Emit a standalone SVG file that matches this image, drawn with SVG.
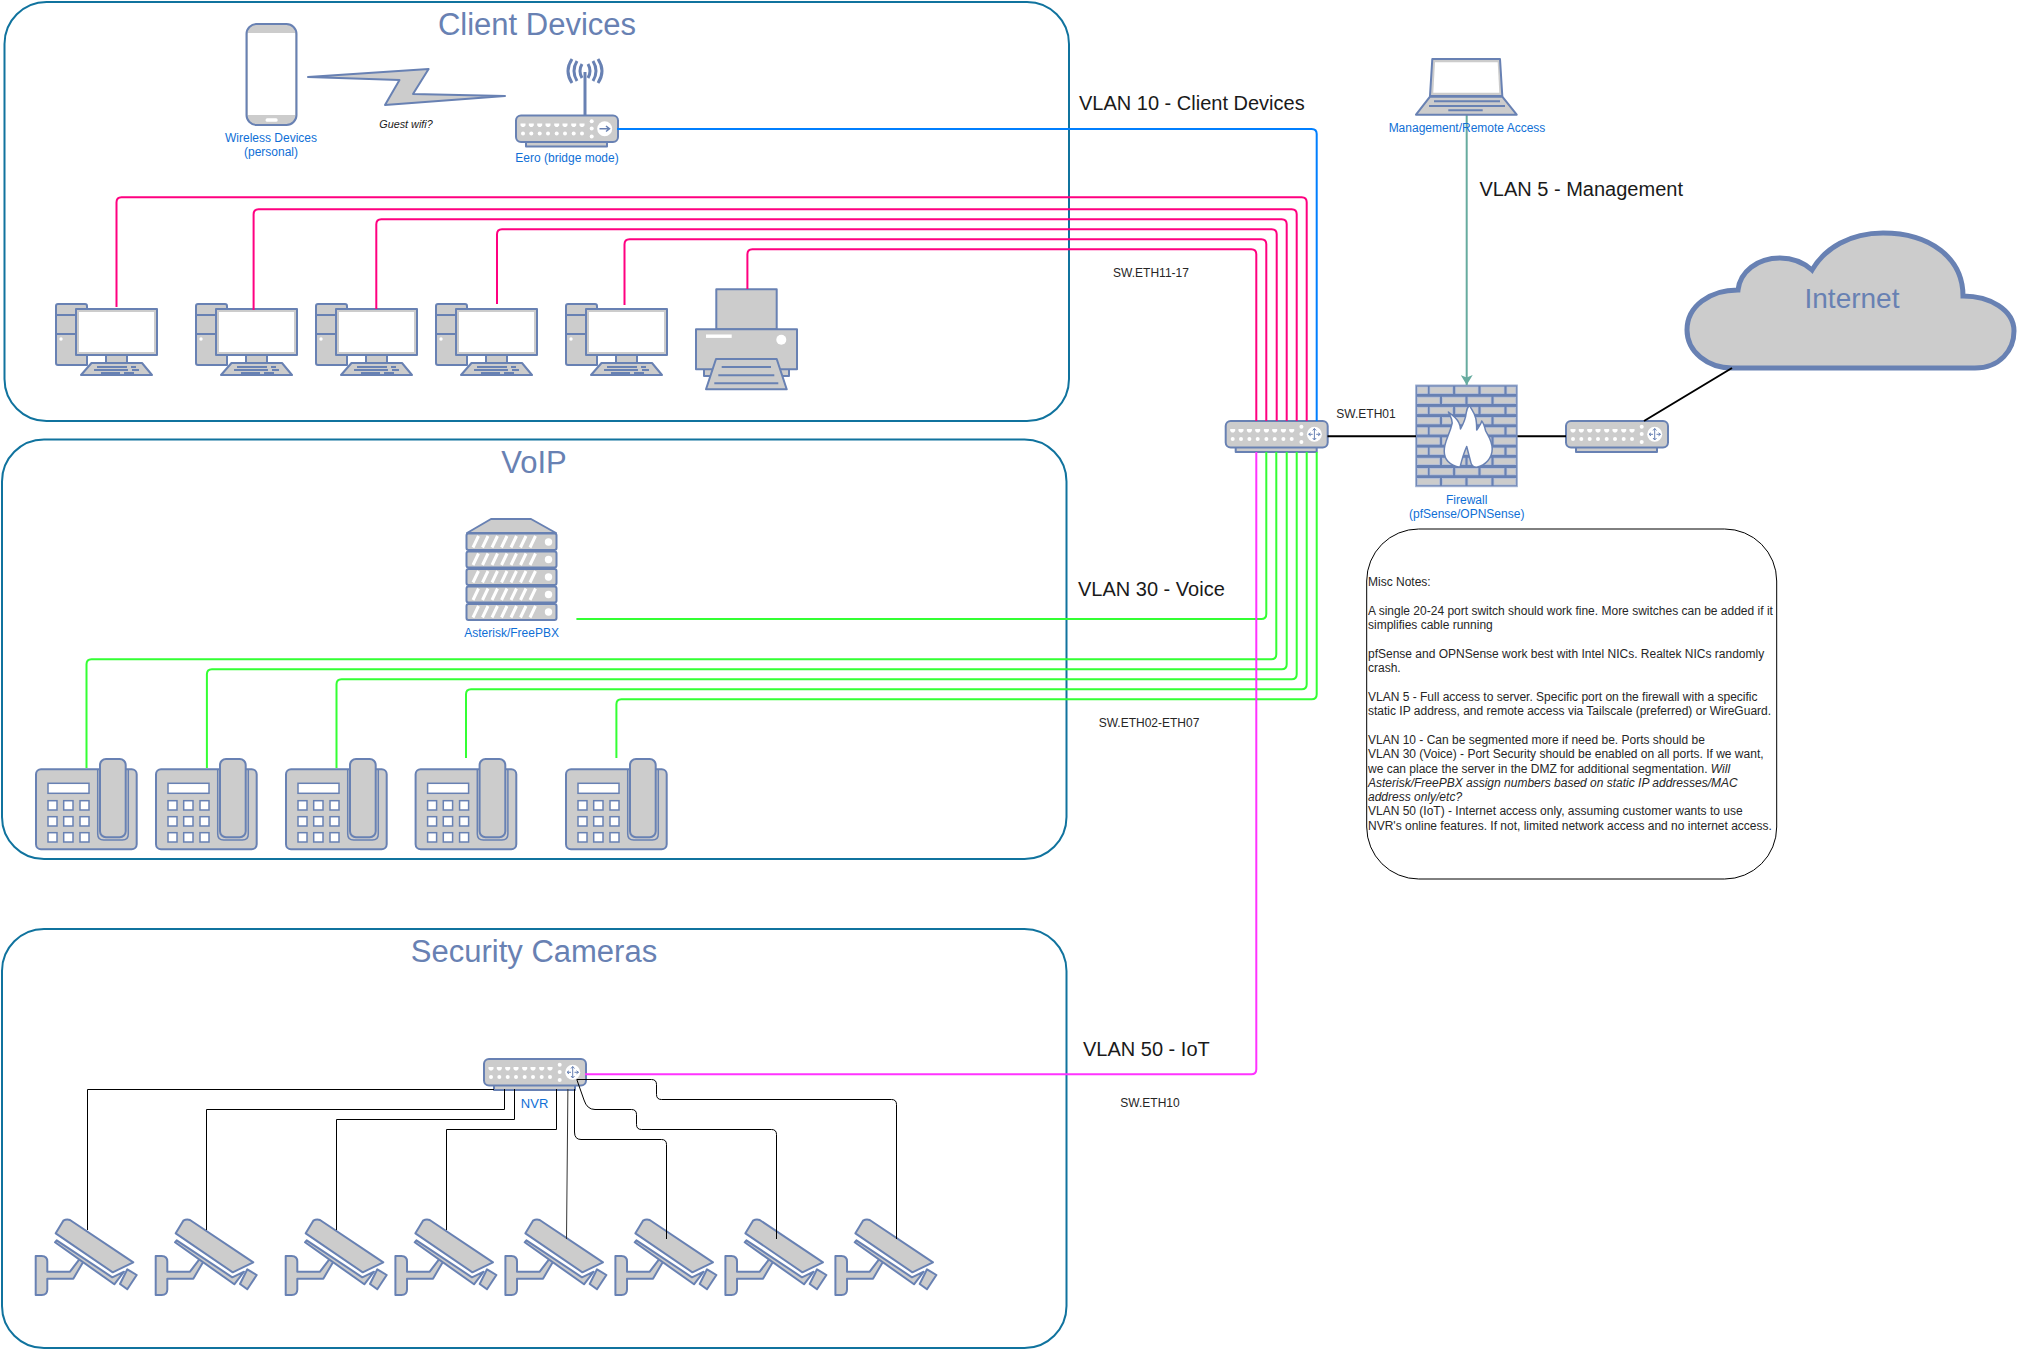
<svg xmlns="http://www.w3.org/2000/svg" width="2017" height="1350" viewBox="0 0 2017 1350">
<style>
text{font-family:"Liberation Sans",Arial,sans-serif}
.box{fill:#fff;stroke:#10739e;stroke-width:2}
.title{font-size:31px;fill:#6881b3;text-anchor:middle}
.lab{font-size:12px;fill:#0f6fd6;text-anchor:middle}
.vlan{font-size:20px;fill:#1a1a1a}
.sm{font-size:12px;fill:#262626;text-anchor:middle}
.note{font-size:12px;fill:#262626}
.s{fill:#ccc;stroke:#6881b3;stroke-width:2;stroke-linejoin:round}
.w{fill:#fff}
.sw{fill:#fff;stroke:#6881b3;stroke-width:1.5}
.l{fill:none;stroke:#6881b3;stroke-width:2}
.c{fill:none;stroke-width:2}
.pk{stroke:#ff0080}
.gr{stroke:#33ff33}
.k{stroke:#000}
.k1{fill:none;stroke:#000;stroke-width:1}
</style>
<defs>
<marker id="arr" markerUnits="userSpaceOnUse" markerWidth="12" markerHeight="12" refX="10" refY="6" orient="auto"><path d="M10 6L0 0L2.5 6L0 12Z" fill="#67ab9f"/></marker>
<g id="swbase">
<rect class="s" x="10" y="26" width="81" height="5"/>
<rect class="s" x="0" y="0" width="102" height="26.5" rx="5"/>
<g fill="#fff">
<path d="M4.5 8h5v2l-1.5 1.5h-2l-1.5-1.5zM12.8 8h5v2l-1.5 1.5h-2l-1.5-1.5zM21.2 8h5v2l-1.5 1.5h-2l-1.5-1.5zM29.5 8h5v2l-1.5 1.5h-2l-1.5-1.5zM38.2 8h5v2l-1.5 1.5h-2l-1.5-1.5zM46.5 8h5v2l-1.5 1.5h-2l-1.5-1.5zM55.2 8h5v2l-1.5 1.5h-2l-1.5-1.5zM63.5 8h5v2l-1.5 1.5h-2l-1.5-1.5z"/>
<circle cx="7" cy="18" r="2"/><circle cx="15.3" cy="18" r="2"/><circle cx="23.7" cy="18" r="2"/><circle cx="32" cy="18" r="2"/><circle cx="40.7" cy="18" r="2"/><circle cx="49" cy="18" r="2"/><circle cx="57.7" cy="18" r="2"/><circle cx="66" cy="18" r="2"/>
<circle cx="75.7" cy="5.7" r="2"/><circle cx="75.7" cy="13" r="2"/><circle cx="75.7" cy="21" r="2"/>
<circle cx="88.7" cy="13.3" r="7.5"/>
</g>
</g>
<g id="switch">
<use href="#swbase"/>
<path d="M88.7 7.5V19M83 13.3H87M90.5 13.3H94.5M87 9.5L88.7 7.5L90.5 9.5M87 17L88.7 19L90.5 17M85 11.8L83 13.3L85 14.8M92.5 11.8L94.5 13.3L92.5 14.8" fill="none" stroke="#6881b3" stroke-width="1"/>
</g>
<g id="computer">
<path class="s" d="M0 2Q0 0 2 0H29Q31 0 31 2V61H2Q0 61 0 59Z"/>
<path class="l" d="M0 11H20M0 30H20"/>
<circle class="w" cx="5" cy="35" r="1.7"/>
<rect class="s" x="50" y="51" width="21" height="8"/>
<rect class="s" x="20" y="5" width="81" height="46"/>
<rect class="w" x="23" y="8" width="75" height="40"/>
<path class="s" d="M35.5 59H86L96 71H25Z"/>
<path class="l" d="M41 63H71M75 63H80M38 66H72M76 66H83M45 69H64M68 69H78" stroke-width="1.5"/>
</g>
<g id="phone">
<rect class="s" x="0" y="11.3" width="100.7" height="80" rx="5"/>
<path d="M61.7 11.3V76Q61.7 82 67.7 82H86.3Q92.3 82 92.3 76V11.3" fill="none" stroke="#6881b3" stroke-width="1.5"/>
<rect class="s" x="64" y="1" width="25.7" height="78.3" rx="6"/>
<rect class="sw" x="12" y="25.3" width="41" height="10"/>
<g class="sw">
<rect x="12" y="42.7" width="9" height="9.3"/><rect x="27.7" y="42.7" width="9.3" height="9.3"/><rect x="44" y="42.7" width="9" height="9.3"/>
<rect x="12" y="58.7" width="9" height="9.3"/><rect x="27.7" y="58.7" width="9.3" height="9.3"/><rect x="44" y="58.7" width="9" height="9.3"/>
<rect x="12" y="74.7" width="9" height="9.3"/><rect x="27.7" y="74.7" width="9.3" height="9.3"/><rect x="44" y="74.7" width="9" height="9.3"/>
</g>
</g>
<g id="camera">
<path class="s" d="M0 0H6Q11.6 0 11.6 5.5V15.7H34.3L43.6 3.3L47.6 5.7L37.6 22.7H11.6V33.5Q11.6 39 6 39H0Z"/>
<path class="s" d="M19.3 -13.7L21 -15.7L76.6 21.3L88.3 15.7L78.6 28.3Z"/>
<path class="s" d="M20 -22.7L27.6 -35.3Q31 -37.5 34.3 -36L97.6 6.3L77 16.3Z"/>
<path class="s" d="M91.6 13.3L101 19L91.6 33.3L84.3 28Z"/>
</g>
<path id="stripes" d="M0 11.5L5.5 0M9.5 11.5L15 0M19 11.5L24.5 0M28.5 11.5L34 0M38 11.5L43.5 0M47.5 11.5L53 0M57 11.5L62.5 0" fill="none" stroke="#fff" stroke-width="3"/>
<g id="rowA" fill="#ccc" stroke="#b9c4db" stroke-width=".8"><rect x="1.7" width="10" height="6.4"/><rect x="14.3" width="22.7" height="6.4"/><rect x="40" width="22.3" height="6.4"/><rect x="65.3" width="23" height="6.4"/><rect x="91.3" width="8.7" height="6.4"/></g>
<g id="rowB" fill="#ccc" stroke="#b9c4db" stroke-width=".8"><rect x="1.7" width="22" height="6.4"/><rect x="26.7" width="22.6" height="6.4"/><rect x="52.3" width="23" height="6.4"/><rect x="78.3" width="21.7" height="6.4"/></g>
</defs>

<rect width="2017" height="1350" fill="#fff"/>

<g id="zones">
<g id="zone-client"><rect class="box" x="4.5" y="2" width="1064.5" height="419" rx="42"/><text class="title" x="537" y="35">Client Devices</text></g>
<g id="zone-voip"><rect class="box" x="2" y="439.5" width="1064.5" height="419.5" rx="42"/><text class="title" x="534" y="473">VoIP</text></g>
<g id="zone-cameras"><rect class="box" x="2" y="929" width="1064.5" height="419" rx="42"/><text class="title" x="534" y="962">Security Cameras</text></g>
</g>

<g id="wireless-devices">
<rect class="s" x="246.5" y="24" width="50" height="101" rx="10"/>
<rect class="w" x="248" y="33" width="47" height="82"/>
<rect class="w" x="265.6" y="118.3" width="12" height="3.4" rx="1.5"/>
<text class="lab" x="271" y="142">Wireless Devices</text>
<text class="lab" x="271" y="156">(personal)</text>
</g>
<g id="wifi-link">
<path class="s" d="M308 77L428.6 69L413 94L505 96L385 105L399.5 80Z"/>
<text x="406" y="128" font-size="10.8" font-style="italic" fill="#1a1a1a" text-anchor="middle">Guest wifi?</text>
</g>
<g id="eero">
<path d="M585 72V115" stroke="#6881b3" stroke-width="3" fill="none"/>
<path d="M572 59Q564 71 572 83M598 59Q606 71 598 83M577 61Q571 71 577 81M593 61Q599 71 593 81M582 64Q578 71 582 78M588 64Q592 71 588 78" stroke="#6881b3" stroke-width="3" fill="none"/>
<g transform="translate(516 115.5)"><use href="#swbase"/><path d="M83.5 13.3H93M90 10.5L93.5 13.3L90 16" fill="none" stroke="#6881b3" stroke-width="1.5"/></g>
<text class="lab" x="567" y="162">Eero (bridge mode)</text>
</g>

<g id="pc1"><use href="#computer" x="56" y="304"/></g>
<g id="pc2"><use href="#computer" x="196" y="304"/></g>
<g id="pc3"><use href="#computer" x="316" y="304"/></g>
<g id="pc4"><use href="#computer" x="436" y="304"/></g>
<g id="pc5"><use href="#computer" x="566" y="304"/></g>
<g id="printer">
<rect class="s" x="716.3" y="289.3" width="60.4" height="40"/>
<rect class="s" x="704" y="369" width="85" height="7"/>
<rect class="s" x="696" y="329.3" width="101" height="40"/>
<rect class="w" x="706" y="334.5" width="25.7" height="3.4"/>
<circle class="w" cx="781.3" cy="339.7" r="5"/>
<path class="s" d="M716 359H776.7L786.7 389.3H706Z"/>
<path class="l" d="M721.7 367H771M718.3 375.3H774.3M714.3 383.3H778.3" stroke-width="1.5"/>
</g>

<g id="server">
<path class="s" d="M467 533L491 519H531L556 533Z"/>
<rect class="s" x="466.5" y="533.5" width="90" height="16.5" rx="2"/>
<rect class="s" x="466.5" y="551.5" width="90" height="16" rx="2"/>
<rect class="s" x="466.5" y="569" width="90" height="16" rx="2"/>
<rect class="s" x="466.5" y="586.5" width="90" height="16" rx="2"/>
<rect class="s" x="466.5" y="604" width="90" height="16" rx="2"/>
<use href="#stripes" x="473" y="536"/><use href="#stripes" x="473" y="553.5"/><use href="#stripes" x="473" y="571"/><use href="#stripes" x="473" y="588.5"/><use href="#stripes" x="473" y="606"/>
<g fill="#fff"><circle cx="548.5" cy="542" r="3.7"/><circle cx="548.5" cy="559.5" r="3.7"/><circle cx="548.5" cy="577" r="3.7"/><circle cx="548.5" cy="594.5" r="3.7"/><circle cx="548.5" cy="612" r="3.7"/></g>
<text class="lab" x="511.6" y="636.5">Asterisk/FreePBX</text>
</g>

<g id="phone1"><use href="#phone" x="36" y="758"/></g>
<g id="phone2"><use href="#phone" x="156" y="758"/></g>
<g id="phone3"><use href="#phone" x="286" y="758"/></g>
<g id="phone4"><use href="#phone" x="415.6" y="758"/></g>
<g id="phone5"><use href="#phone" x="566" y="758"/></g>

<g id="nvr"><use href="#switch" x="484" y="1059"/><text class="lab" x="534.6" y="1107.5" style="font-size:13px">NVR</text></g>

<g id="cam1"><use href="#camera" x="35.7" y="1256"/></g>
<g id="cam2"><use href="#camera" x="155.7" y="1256"/></g>
<g id="cam3"><use href="#camera" x="285.7" y="1256"/></g>
<g id="cam4"><use href="#camera" x="395.4" y="1256"/></g>
<g id="cam5"><use href="#camera" x="505.4" y="1256"/></g>
<g id="cam6"><use href="#camera" x="615.4" y="1256"/></g>
<g id="cam7"><use href="#camera" x="725.4" y="1256"/></g>
<g id="cam8"><use href="#camera" x="835.4" y="1256"/></g>

<g id="main-switch"><use href="#switch" x="1225.7" y="421"/></g>
<g id="edge-switch"><use href="#switch" x="1566" y="421"/></g>

<g id="firewall">
<rect x="1415.7" y="385" width="101.6" height="101.7" fill="#6881b3" stroke="#9fb0d0"/>
<g transform="translate(1415.7 385)">
<use href="#rowA" y="2"/><use href="#rowB" y="12.2"/><use href="#rowA" y="22.3"/><use href="#rowB" y="32.5"/><use href="#rowA" y="42.7"/><use href="#rowB" y="52.8"/><use href="#rowA" y="63"/><use href="#rowB" y="73.2"/><use href="#rowA" y="83.4"/><use href="#rowB" y="93.5"/>
<path d="M44.3 82.3C33 80 28.5 74 28.5 66C28.5 56 34 50 36.5 38C36.5 33 34 30 32.7 27L39.3 32.5C43 36 44.5 40 44.8 44C47 40 50 33 50.5 28C50.8 25 51.5 23 53.5 20C56 25 59 28 60 33C61 37 61 41 61 45C63 42 65.5 39 66 36C68 38 69 42 70 46C73 52 76.5 56 76.5 64C76.5 73 70 80 61 82.3C58 82 55.5 80 55 77L51 61.5C49 66 47 71 44.3 82.3Z" fill="#fff" stroke="#6881b3" stroke-width="1.5" stroke-linejoin="round"/>
</g>
<text class="lab" x="1466.7" y="504">Firewall</text>
<text class="lab" x="1466.7" y="518">(pfSense/OPNSense)</text>
</g>

<g id="internet">
<path d="M1732 368H1975C2000 368 2014 350 2014 331C2014 310 1990 296 1963 296C1963 258 1930 233 1883 233C1850 233 1825 248 1812 270C1803 262 1793 258 1780 258C1757 258 1740 272 1738 290C1710 290 1687 306 1687 330C1687 352 1708 368 1732 368Z" fill="#ccc" stroke="#6881b3" stroke-width="5"/>
<text x="1852" y="308" font-size="28" fill="#6881b3" text-anchor="middle">Internet</text>
</g>

<g id="connectors">
<path class="c pk" d="M116.5 307V202.3Q116.5 197.3 121.5 197.3H1301.7Q1306.7 197.3 1306.7 202.3V421"/>
<path class="c pk" d="M253.6 310V214.3Q253.6 209.3 258.6 209.3H1291.7Q1296.7 209.3 1296.7 214.3V421"/>
<path class="c pk" d="M376.3 309V224.3Q376.3 219.3 381.3 219.3H1281.7Q1286.7 219.3 1286.7 224.3V421"/>
<path class="c pk" d="M497 304V234.3Q497 229.3 502 229.3H1271.7Q1276.7 229.3 1276.7 234.3V421"/>
<path class="c pk" d="M624.5 305V244.3Q624.5 239.3 629.5 239.3H1261.3Q1266.3 239.3 1266.3 244.3V421"/>
<path class="c pk" d="M747.4 289V254.3Q747.4 249.3 752.4 249.3H1251.3Q1256.3 249.3 1256.3 254.3V421"/>
<path class="c" stroke="#007fff" d="M617 129H1311.7Q1316.7 129 1316.7 134V421"/>
<path class="c gr" d="M576.4 619H1261.3Q1266.3 619 1266.3 614V452"/>
<path class="c gr" d="M86.5 768V664.3Q86.5 659.3 91.5 659.3H1271.3Q1276.3 659.3 1276.3 654.3V452"/>
<path class="c gr" d="M206.9 768V674.3Q206.9 669.3 211.9 669.3H1281.7Q1286.7 669.3 1286.7 664.3V452"/>
<path class="c gr" d="M336.5 768V684.3Q336.5 679.3 341.5 679.3H1291.7Q1296.7 679.3 1296.7 674.3V452"/>
<path class="c gr" d="M466 758V694.3Q466 689.3 471 689.3H1301.7Q1306.7 689.3 1306.7 684.3V452"/>
<path class="c gr" d="M616.4 758V704.3Q616.4 699.3 621.4 699.3H1311.7Q1316.7 699.3 1316.7 694.3V452"/>
<path class="c" stroke="#ff33ff" d="M585 1074.3H1251.3Q1256.3 1074.3 1256.3 1069.3V452"/>
<path class="c k" d="M1327.5 436.3H1416M1517.5 436.3H1566M1644 421L1732 368"/>
<path d="M1466.7 114.7V385" fill="none" stroke="#67ab9f" stroke-width="2" marker-end="url(#arr)"/>
<path class="k1" d="M87.5 1230V1089.5H494"/>
<path class="k1" d="M206.5 1230V1109.5H504.5V1089"/>
<path class="k1" d="M336.5 1230V1119.5H514.5V1089"/>
<path class="k1" d="M446.5 1230V1129.5H556.5V1089"/>
<path d="M567.9 1089L566.5 1239" fill="none" stroke="#333" stroke-width="1"/>
<path class="k1" d="M574.5 1089V1132Q574.5 1139.5 581 1139.5H661.5Q666.5 1139.5 666.5 1144.5V1239"/>
<path class="k1" d="M576.8 1079.5L584 1100Q587 1109.5 595 1109.5H631.5Q636.5 1109.5 636.5 1114.5V1124.5Q636.5 1129.5 641.5 1129.5H771.5Q776.5 1129.5 776.5 1134.5V1239"/>
<path class="k1" d="M576.8 1079.5H651.5Q656.5 1079.5 656.5 1084.5V1094.5Q656.5 1099.5 661.5 1099.5H891.5Q896.5 1099.5 896.5 1104.5V1239"/>
</g>

<g id="management">
<path class="s" d="M1432.3 59H1500L1502.3 96H1430Z"/>
<path class="w" d="M1435 62.3H1497.7L1499.3 92.7H1433.3Z"/>
<path class="s" d="M1430 96.7H1502.3L1516.7 114.7H1416Z"/>
<path class="l" d="M1434 101.3H1500M1429 106H1505M1448.3 110.3H1482.7" stroke-width="1.5"/>
<text class="lab" x="1467" y="132">Management/Remote Access</text>
</g>

<g id="labels">
<text class="vlan" x="1079" y="110">VLAN 10 - Client Devices</text>
<text class="vlan" x="1479.5" y="196">VLAN 5 - Management</text>
<text class="vlan" x="1078" y="596">VLAN 30 - Voice</text>
<text class="vlan" x="1083" y="1056">VLAN 50 - IoT</text>
<text class="sm" x="1151" y="277">SW.ETH11-17</text>
<text class="sm" x="1149" y="727">SW.ETH02-ETH07</text>
<text class="sm" x="1150" y="1107">SW.ETH10</text>
<text class="sm" x="1366" y="417.5">SW.ETH01</text>
</g>

<g id="notes">
<rect x="1366.7" y="529" width="410" height="350" rx="52" fill="#fff" stroke="#000" stroke-width="1"/>
<text class="note" x="1368" y="585.5">Misc Notes:</text>
<text class="note" x="1368" y="615">A single 20-24 port switch should work fine. More switches can be added if it</text>
<text class="note" x="1368" y="628.5">simplifies cable running</text>
<text class="note" x="1368" y="657.5">pfSense and OPNSense work best with Intel NICs. Realtek NICs randomly</text>
<text class="note" x="1368" y="671.5">crash.</text>
<text class="note" x="1368" y="700.5">VLAN 5 - Full access to server. Specific port on the firewall with a specific</text>
<text class="note" x="1368" y="715">static IP address, and remote access via Tailscale (preferred) or WireGuard.</text>
<text class="note" x="1368" y="743.5">VLAN 10 - Can be segmented more if need be. Ports should be</text>
<text class="note" x="1368" y="758">VLAN 30 (Voice) - Port Security should be enabled on all ports. If we want,</text>
<text class="note" x="1368" y="772.5">we can place the server in the DMZ for additional segmentation. <tspan font-style="italic">Will</tspan></text>
<text class="note" x="1368" y="786.5" font-style="italic">Asterisk/FreePBX assign numbers based on static IP addresses/MAC</text>
<text class="note" x="1368" y="801" font-style="italic">address only/etc?</text>
<text class="note" x="1368" y="815">VLAN 50 (IoT) - Internet access only, assuming customer wants to use</text>
<text class="note" x="1368" y="830">NVR's online features. If not, limited network access and no internet access.</text>
</g>
</svg>
